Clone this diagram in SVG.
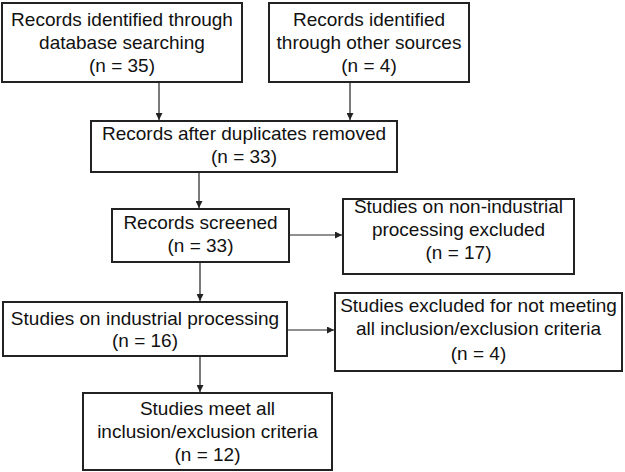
<svg xmlns="http://www.w3.org/2000/svg" width="625" height="472" viewBox="0 0 625 472">
<style>
.box{fill:#fff;stroke:#222;stroke-width:2}
.t{font-family:"Liberation Sans",Arial,sans-serif;font-size:19px;fill:#111;text-anchor:middle}
.c{stroke:#222;stroke-width:1.2;fill:none;marker-end:url(#ah)}
</style>
<defs>
<marker id="ah" viewBox="0 0 10 10" refX="10" refY="5" markerWidth="7" markerHeight="7" markerUnits="userSpaceOnUse" orient="auto">
<path d="M0,0 L10,5 L0,10 z" fill="#222"/>
</marker>
</defs>
<rect width="625" height="472" fill="#fff"/>
<g id="connectors">
<line class="c" x1="159" y1="82" x2="159" y2="120"/>
<line class="c" x1="350" y1="82" x2="350" y2="120"/>
<line class="c" x1="199" y1="172" x2="199" y2="208"/>
<line class="c" x1="289" y1="235" x2="342" y2="235"/>
<line class="c" x1="200" y1="262" x2="200" y2="301"/>
<line class="c" x1="287" y1="330" x2="334" y2="330"/>
<line class="c" x1="200" y1="356" x2="200" y2="392"/>
</g>
<g id="n1">
<rect class="box" x="2" y="3" width="240" height="79"/>
<text class="t" x="122" y="26">Records identified through</text>
<text class="t" x="122" y="49">database searching</text>
<text class="t" x="122" y="72">(n = 35)</text>
</g>
<g id="n2">
<rect class="box" x="269" y="3" width="200" height="79"/>
<text class="t" x="369" y="26">Records identified</text>
<text class="t" x="369" y="49">through other sources</text>
<text class="t" x="369" y="72">(n = 4)</text>
</g>
<g id="n3">
<rect class="box" x="91" y="121" width="306" height="51"/>
<text class="t" x="244" y="140">Records after duplicates removed</text>
<text class="t" x="244" y="163">(n = 33)</text>
</g>
<g id="n4">
<rect class="box" x="112" y="209" width="177" height="53"/>
<text class="t" x="200.5" y="229">Records screened</text>
<text class="t" x="200.5" y="252">(n = 33)</text>
</g>
<g id="n5">
<rect class="box" x="343" y="199" width="231" height="75"/>
<text class="t" x="458.5" y="213">Studies on non-industrial</text>
<text class="t" x="458.5" y="236">processing excluded</text>
<text class="t" x="458.5" y="259">(n = 17)</text>
</g>
<g id="n6">
<rect class="box" x="3" y="302" width="284" height="54"/>
<text class="t" x="145" y="325">Studies on industrial processing</text>
<text class="t" x="145" y="347">(n = 16)</text>
</g>
<g id="n7">
<rect class="box" x="335" y="293" width="287" height="78"/>
<text class="t" x="478.5" y="312">Studies excluded for not meeting</text>
<text class="t" x="478.5" y="335">all inclusion/exclusion criteria</text>
<text class="t" x="478.5" y="360">(n = 4)</text>
</g>
<g id="n8">
<rect class="box" x="83" y="393" width="249" height="77"/>
<text class="t" x="207.5" y="415">Studies meet all</text>
<text class="t" x="207.5" y="438">inclusion/exclusion criteria</text>
<text class="t" x="207.5" y="461">(n = 12)</text>
</g>
</svg>
